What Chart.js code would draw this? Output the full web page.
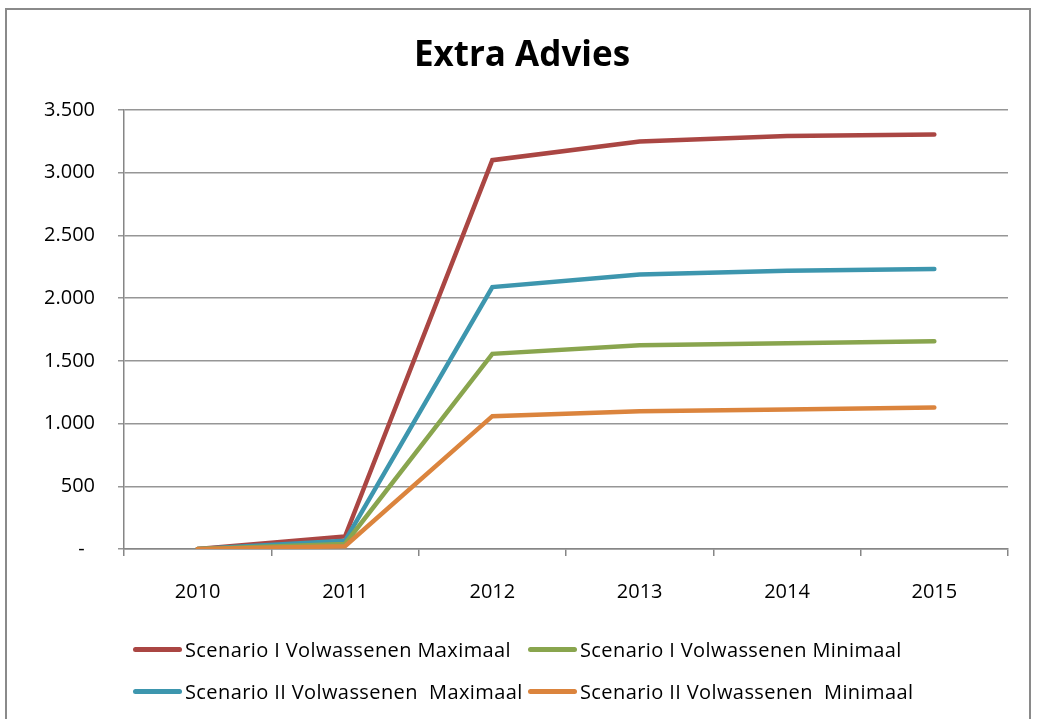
<!DOCTYPE html>
<html>
<head>
<meta charset="utf-8">
<script src="https://cdn.jsdelivr.net/npm/chart.js@4.4.1/dist/chart.umd.min.js"></script>
<style>
  html, body { margin: 0; padding: 0; background: #fff; }
  #wrap { position: relative; width: 1039px; height: 719px; overflow: hidden; }
  #frame { position: absolute; left: 5px; top: 8px; width: 1026px; height: 730px; border: 2px solid #8a8a8a; box-sizing: border-box; pointer-events: none; }
  #c { position: absolute; left: 0; top: 0; }
  .leg { position: absolute; font-family: "Open Sans", sans-serif; font-size: 20px; letter-spacing: 0.4px; color: #000; white-space: pre; display: flex; align-items: center; }
  .leg .sw { width: 49px; height: 5px; border-radius: 3px; margin-right: 3px; }
</style>
</head>
<body>
<div id="wrap">
  <canvas id="c" width="1039" height="719"></canvas>
  <div id="frame"></div>
  <div id="legend"></div>
</div>
<script>
const categories = ['2010', '2011', '2012', '2013', '2014', '2015'];
const seriesNames = [
  'Scenario I Volwassenen Maximaal',
  'Scenario I Volwassenen Minimaal',
  'Scenario II Volwassenen  Maximaal',
  'Scenario II Volwassenen  Minimaal'
];
const scenarioIMax = [0, 100, 3100, 3248, 3293, 3305];
const scenarioIMin = [0, 40, 1556, 1625, 1641, 1657];
const scenarioIIMax = [0, 65, 2088, 2189, 2219, 2232];
const scenarioIIMin = [0, 22, 1059, 1099, 1112, 1128];
const yTicks = [0, 500, 1000, 1500, 2000, 2500, 3000, 3500];
const colors = ['#AA4643', '#89A54E', '#3D96AE', '#DB843D'];

function fmt(v) {
  if (v === 0) return '-  ';
  return String(v).replace(/\B(?=(\d{3})+(?!\d))/g, '.');
}

const seriesValues = [scenarioIMax, scenarioIMin, scenarioIIMax, scenarioIIMin];
const drawOrder = [3, 1, 2, 0];

const datasets = seriesNames.map((name, i) => ({
  label: name,
  data: seriesValues[i],
  borderColor: colors[i],
  backgroundColor: colors[i],
  borderWidth: 4.5,
  pointRadius: 0,
  pointHoverRadius: 0,
  tension: 0,
  fill: false,
  borderCapStyle: 'round',
  borderJoinStyle: 'miter',
  order: drawOrder[i]
}));

const chart = new Chart(document.getElementById('c'), {
  type: 'line',
  data: { labels: categories, datasets: datasets },
  options: {
    responsive: false,
    animation: false,
    devicePixelRatio: 1,
    layout: { padding: { left: 36, right: 31, top: 0, bottom: 120 } },
    plugins: {
      legend: { display: false },
      tooltip: { enabled: false },
      title: {
        display: true,
        text: 'Extra Advies',
        color: '#000',
        font: { family: 'Open Sans', size: 35, weight: 'bold', lineHeight: 1.2 },
        padding: { top: 35, bottom: 110 - 35 - 42 }
      }
    },
    scales: {
      x: {
        offset: true,
        grid: { display: true, drawOnChartArea: false, offset: true, tickLength: 7, color: '#868686', lineWidth: 1.5 },
        border: { display: true, color: '#868686', width: 1.5 },
        ticks: { color: '#000', font: { family: 'Open Sans', size: 20 }, padding: 24, maxRotation: 0 },
        afterFit: (s) => { s.height = 50; }
      },
      y: {
        min: 0,
        max: 3500,
        afterBuildTicks: (s) => { s.ticks = yTicks.map(v => ({ value: v })); },
        grid: { color: '#969696', lineWidth: 1.5, tickLength: 6 },
        border: { display: true, color: '#868686', width: 1.5 },
        ticks: { color: '#000', font: { family: 'Open Sans', size: 20 }, padding: 23, callback: (v) => fmt(v) },
        afterFit: (s) => { s.width = 88; }
      }
    }
  }
});

const legendEl = document.getElementById('legend');
const colX = [133, 528];
const rowY = [649, 691];
chart.data.datasets.forEach((ds, k) => {
  const item = document.createElement('div');
  item.className = 'leg';
  item.style.left = colX[k % 2] + 'px';
  item.style.top = (rowY[Math.floor(k / 2)] - 14) + 'px';
  item.style.height = '28px';
  const sw = document.createElement('span');
  sw.className = 'sw';
  sw.style.background = ds.borderColor;
  const tx = document.createElement('span');
  tx.textContent = ds.label;
  item.appendChild(sw);
  item.appendChild(tx);
  legendEl.appendChild(item);
});
</script>
</body>
</html>
